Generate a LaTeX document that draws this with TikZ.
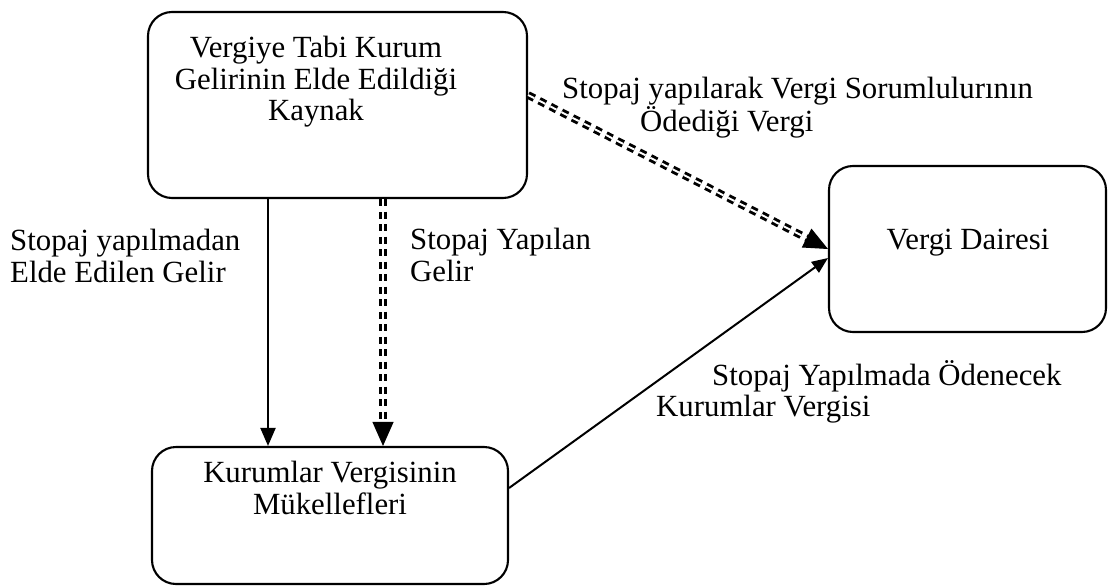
\documentclass[tikz,border=0pt]{standalone}
\usepackage{fontspec}
\setmainfont{Liberation Serif}
\usetikzlibrary{arrows.meta}
\tikzset{
  box/.style={draw, line width=2.1pt, rounded corners=24pt, inner sep=0pt},
  lbl/.style={inner sep=0pt, font=\fontsize{30.8}{31.5}\selectfont},
  conn/.style={line width=2pt},
  solidtip/.style={-{Triangle[length=18pt,width=15pt]}},
  dbl/.style={draw, line width=2.9pt, double=white, double distance=1.9pt, dash pattern=on 7pt off 5.5pt},
  bigtip/.style={-{Triangle[length=24pt,width=21pt]}, line width=1pt, dash pattern=on 0pt off 2000pt},
}
\begin{document}
\begin{tikzpicture}[x=1pt,y=-1pt]
\useasboundingbox (0,0) rectangle (1108,586);
\fill[white] (0,0) rectangle (1108,586);

% boxes
\node[box, minimum width=379pt, minimum height=186pt] (k1) at (337.5,105) {};
\node[box, minimum width=277pt, minimum height=166pt] (vd) at (967.5,249) {};
\node[box, minimum width=356pt, minimum height=137pt] (km) at (330,515.5) {};

% box texts
\node[lbl, align=center, anchor=north] (t1) at (316,36) {Vergiye Tabi Kurum\\Gelirinin Elde Edildiği\\Kaynak};
\node[lbl, anchor=base] (t2) at (968,249) {Vergi Dairesi};
\node[lbl, align=center, anchor=north] (t3) at (330,461) {Kurumlar Vergisinin\\Mükellefleri};

% labels
\node[lbl, align=left, anchor=north west] (l1) at (10,229) {Stopaj yapılmadan\\Elde Edilen Gelir};
\node[lbl, align=left, anchor=north west] (l2) at (410,228) {Stopaj Yapılan\\Gelir};
\node[lbl, align=left, anchor=north west] (l3) at (562,77) {Stopaj yapılarak Vergi Sorumlulurının\\\hspace*{78pt}Ödediği Vergi};
\node[lbl, align=left, anchor=north west] (l4) at (656,360) {\hspace*{56pt}Stopaj Yapılmada Ödenecek\\Kurumlar Vergisi};

% helper coordinates
\coordinate (xa) at (268,0);
\coordinate (xb) at (383,0);
\coordinate (ya) at (0,95);
\coordinate (yb) at (0,249);
\coordinate (yc) at (0,488);
\coordinate (yd) at (0,258);

% connectors
\draw[conn, solidtip] (xa |- k1.south) -- (xa |- km.north);
\draw[dbl, shorten >=22pt] (xb |- k1.south) -- (xb |- km.north);
\draw[bigtip] (xb |- k1.south) -- (xb |- km.north);
\draw[dbl, shorten >=22pt] (k1.east |- ya) -- (vd.west |- yb);
\draw[bigtip] (k1.east |- ya) -- (vd.west |- yb);
\draw[conn, -{Triangle[length=16pt,width=13pt]}] (km.east |- yc) -- (vd.west |- yd);
\end{tikzpicture}
\end{document}
